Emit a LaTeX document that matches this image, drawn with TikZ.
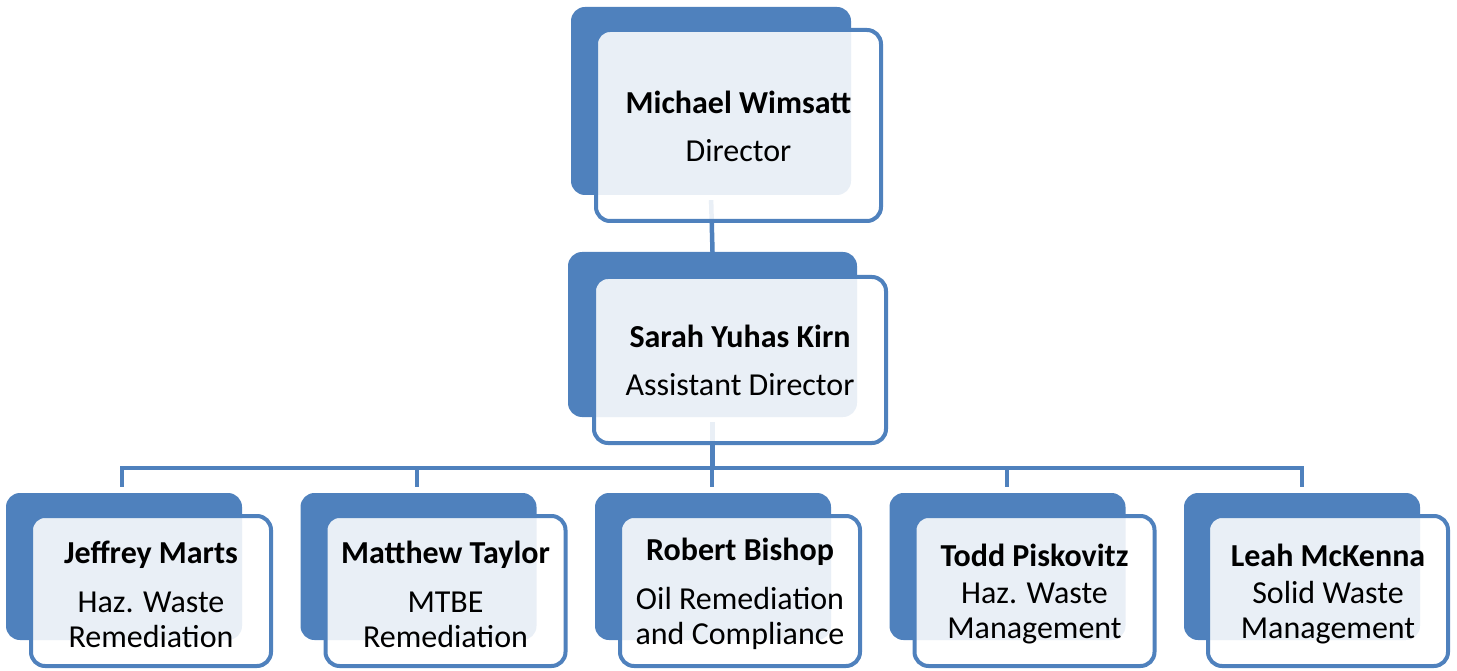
\documentclass[tikz,border=0pt]{standalone}
\usepackage{fontspec}
\setmainfont{Carlito}
\definecolor{orgblue}{RGB}{79,129,189}
\begin{document}
\begin{tikzpicture}[x=1pt,y=-1pt,
  darkbox/.style={rectangle,rounded corners=14pt,fill=orgblue,inner sep=0pt},
  frontbox/.style={rectangle,rounded corners=14pt,draw=orgblue,line width=4pt,
     fill=white,fill opacity=0.88,inner sep=0pt},
  txt/.style={inner sep=0pt,align=center,font=\fontsize{32}{35}\selectfont},
  conn/.style={draw=orgblue,line width=4.5pt}]
\useasboundingbox (0,0) rectangle (1457,671);
% dark back panels
\node[darkbox,minimum width=280pt,minimum height=188pt] (d0) at (711,101) {};
\node[darkbox,minimum width=289pt,minimum height=165pt] (d1) at (712.5,334.5) {};
\foreach \k in {0,...,4}{
  \node[darkbox,minimum width=236pt,minimum height=147pt] (e\k) at ({124+294.5*\k},566.5) {};
}
% connectors
\coordinate (bl) at (122,468);
\coordinate (br) at (1302,468);
\draw[conn,shorten <=5pt] (d0.south) -- (d1.north);
\draw[conn,shorten <=5pt] (d1.south) -- (d1.south |- bl);
\draw[conn,line cap=rect] (bl) -- (br);
\foreach \k in {0,...,4}{
  \coordinate (b\k) at ({122+295*\k},468);
  \draw[conn,shorten >=6pt] (b\k) -- (b\k |- e\k.north);
}
% front boxes
\node[frontbox,minimum width=285pt,minimum height=191pt] (f0) at (738.5,125.5) {};
\node[frontbox,minimum width=292pt,minimum height=166pt] (f1) at (740,360) {};
\foreach \k/\cx in {0/151,1/445.5,2/740,3/1034.5,4/1328}{
  \node[frontbox,minimum width=240pt,minimum height=150pt] (g\k) at (\cx,591) {};
}
% texts
\node[txt] (t0) at ([yshift=-0.5pt]f0.center) {\textbf{Michael Wimsatt}\\[13pt]Director};
\node[txt] (t1) at ([yshift=-0.5pt]f1.center) {\textbf{Sarah Yuhas Kirn}\\[13pt]Assistant Director};
\node[txt] (s0) at ([yshift=-3pt]g0.center) {\textbf{Jeffrey Marts}\\[14pt]Haz. Waste\\Remediation};
\node[txt] (s1) at ([yshift=-3pt]g1.center) {\textbf{Matthew Taylor}\\[14pt]MTBE\\Remediation};
\node[txt] (s2) at ([yshift=-3pt]g2.center) {\textbf{Robert Bishop}\\[14pt]Oil Remediation\\and Compliance};
\node[txt] (s3) at ([yshift=-3pt]g3.center) {\textbf{Todd Piskovitz}\\[2pt]Haz. Waste\\Management};
\node[txt] (s4) at ([yshift=-3pt]g4.center) {\textbf{Leah McKenna}\\[2pt]Solid Waste\\Management};
\end{tikzpicture}
\end{document}
